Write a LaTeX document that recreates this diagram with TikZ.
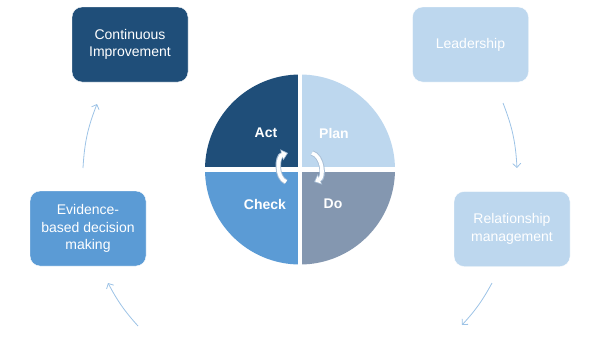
\documentclass[tikz,border=0pt]{standalone}
\usepackage{fontspec}
\setmainfont{Liberation Sans}
\usepackage{xcolor}
\usepackage{tikz}
\usetikzlibrary{arrows.meta,positioning,calc}
\definecolor{actNavy}{HTML}{1F4E79}
\definecolor{planSky}{HTML}{BDD7EE}
\definecolor{checkBlue}{HTML}{5B9BD5}
\definecolor{doSlate}{HTML}{8497B0}
\definecolor{flowBlue}{HTML}{9DC3E6}
\definecolor{spinEdge}{HTML}{A9BFD6}

\begin{document}
\begin{tikzpicture}[
    x=1pt,y=-1pt,
    every node/.style={font=\fontsize{14}{17.5}\selectfont},
    stagebox/.style={rectangle,rounded corners=10pt,draw=white,thin,text=white,
                  minimum height=75pt,minimum width=116pt,inner sep=4pt,align=center},
    pielabel/.style={text=white,font=\fontsize{14}{17}\selectfont\bfseries},
    flow/.style={draw=flowBlue,line width=0.8pt,-{Straight Barb[length=4pt,width=8pt]}},
    spinedge/.style={draw=spinEdge,line width=5.4pt,-{Triangle[width=11pt,length=6.5pt]}},
    spinfill/.style={draw=white,line width=3.6pt,shorten >=1.3pt,-{Triangle[width=8pt,length=4.6pt]}}
  ]
  \useasboundingbox (0,0) rectangle (600,338);
  %% PDCA wheel
  \coordinate (hub) at (300,169.5);
  \begin{scope}
    \clip (hub) circle[radius=95pt];
    \fill[actNavy]   (hub) rectangle ++(-100,-100);
    \fill[planSky]   (hub) rectangle ++(100,-100);
    \fill[checkBlue] (hub) rectangle ++(-100,100);
    \fill[doSlate]   (hub) rectangle ++(100,100);
  \end{scope}
  \draw[white,line width=4.5pt] ($(hub)+(0,-100)$) -- ($(hub)+(0,100)$);
  \draw[white,line width=4.5pt] ($(hub)+(-100,0)$) -- ($(hub)+(100,0)$);
  \node[pielabel] (act)   at (266,133) {Act};
  \node[pielabel] (plan)  at (334,133) {Plan};
  \node[pielabel] (check) at (265,204) {Check};
  \node[pielabel] (do)    at (333,204) {Do};
  %% Turning arrows in the middle
  \coordinate (spinL1) at (286,182);
  \coordinate (spinL2) at (288,153);
  \coordinate (spinR1) at (312,153);
  \coordinate (spinR2) at (314,182);
  \draw[spinedge] (spinL1) to[bend left=70] (spinL2);
  \draw[spinfill] (spinL1) to[bend left=70] (spinL2);
  \draw[spinedge] (spinR1) to[bend left=70] (spinR2);
  \draw[spinfill] (spinR1) to[bend left=70] (spinR2);
  %% Principle boxes
  \node[stagebox,fill=actNavy]   (improve) at (130,44.5)  {Continuous\\Improvement};
  \node[stagebox,fill=planSky]   (lead)    at (470.5,44.5){Leadership};
  \node[stagebox,fill=planSky]   (relate)  at (512,229)   {Relationship\\management};
  \node[stagebox,fill=checkBlue] (evidence) at (88,228.5) {Evidence-\\based decision\\making};
  %% Outer cycle
  \coordinate (evTop)   at (83,168);
  \coordinate (imBot)   at (97,104);
  \coordinate (ldBot)   at (503,103);
  \coordinate (rlTop)   at (517,168);
  \coordinate (rlBot)   at (492,283);
  \coordinate (rlEnd)   at (462,325);
  \coordinate (evStart) at (138,326);
  \coordinate (evBot)   at (108,283);
  \draw[flow] (evTop)   to[bend left=9] (imBot);
  \draw[flow] (ldBot)   to[bend left=9] (rlTop);
  \draw[flow] (rlBot)   to[bend left=7] (rlEnd);
  \draw[flow] (evStart) to[bend left=7] (evBot);
\end{tikzpicture}
\end{document}
